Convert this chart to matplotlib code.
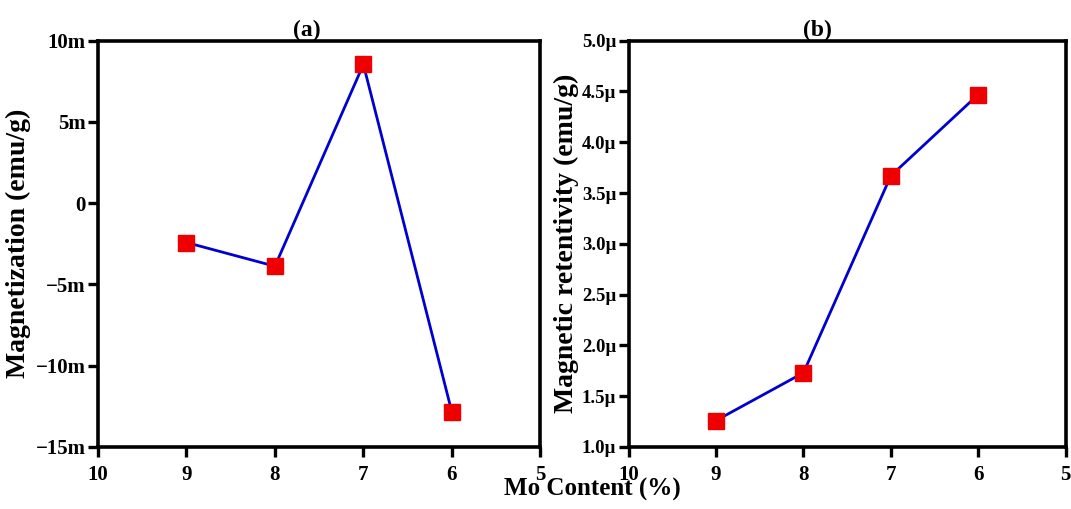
import matplotlib
matplotlib.use("Agg")
import matplotlib.pyplot as plt
from matplotlib.ticker import EngFormatter

plt.rcParams["font.family"] = ["Liberation Serif", "DejaVu Serif"]
plt.rcParams["font.weight"] = "bold"
plt.rcParams["axes.unicode_minus"] = True

# Mo content (%) and measured values
mo = [9, 8, 7, 6]
magnetization = [-2.42e-3, -3.88e-3, 8.54e-3, -12.85e-3]   # emu/g
retentivity = [1.26e-6, 1.73e-6, 3.67e-6, 4.47e-6]         # emu/g

x_ticks = [10, 9, 8, 7, 6, 5]
mag_ticks = [-15e-3, -10e-3, -5e-3, 0, 5e-3, 10e-3]
ret_ticks = [1.0e-6, 1.5e-6, 2.0e-6, 2.5e-6, 3.0e-6, 3.5e-6, 4.0e-6, 4.5e-6, 5.0e-6]

fig = plt.figure(figsize=(10.71, 5.09), dpi=100)
axA = fig.add_axes([0.0915, 0.122, 0.413, 0.798])
axB = fig.add_axes([0.587, 0.122, 0.408, 0.798])


def style(ax, yvals, yticks, places, ysize, ylabel, lpad, title, tx):
    ax.plot(mo, yvals, "-s", color="#0000d0", lw=2.0,
            mfc="#ee0000", mec="#ee0000", ms=11)
    ax.set_xlim(10, 5)
    ax.set_xticks(x_ticks)
    ax.set_ylim(yticks[0], yticks[-1])
    ax.set_yticks(yticks)
    ax.yaxis.set_major_formatter(EngFormatter(places=places, sep=""))
    ax.tick_params(direction="out", length=7, width=2.4)
    ax.tick_params(axis="x", labelsize=15, pad=6)
    ax.tick_params(axis="y", labelsize=ysize, pad=2)
    for lab in ax.get_xticklabels() + ax.get_yticklabels():
        lab.set_fontweight("bold")
    for sp in ax.spines.values():
        sp.set_linewidth(2.6)
    ax.set_ylabel(ylabel, fontsize=20, fontweight="bold", labelpad=lpad)
    ax.set_title(title, fontsize=17, fontweight="bold", pad=1, x=tx)


style(axA, magnetization, mag_ticks, 0, 15, "Magnetization (emu/g)", 3, "(a)", 0.473)
style(axB, retentivity, ret_ticks, 1, 13.5, "Magnetic retentivity (emu/g)", 2, "(b)", 0.432)

fig.text(0.553, 0.026, "Mo Content (%)", ha="center", va="baseline",
         fontsize=18, fontweight="bold")

fig.savefig("out.png", dpi=100)
